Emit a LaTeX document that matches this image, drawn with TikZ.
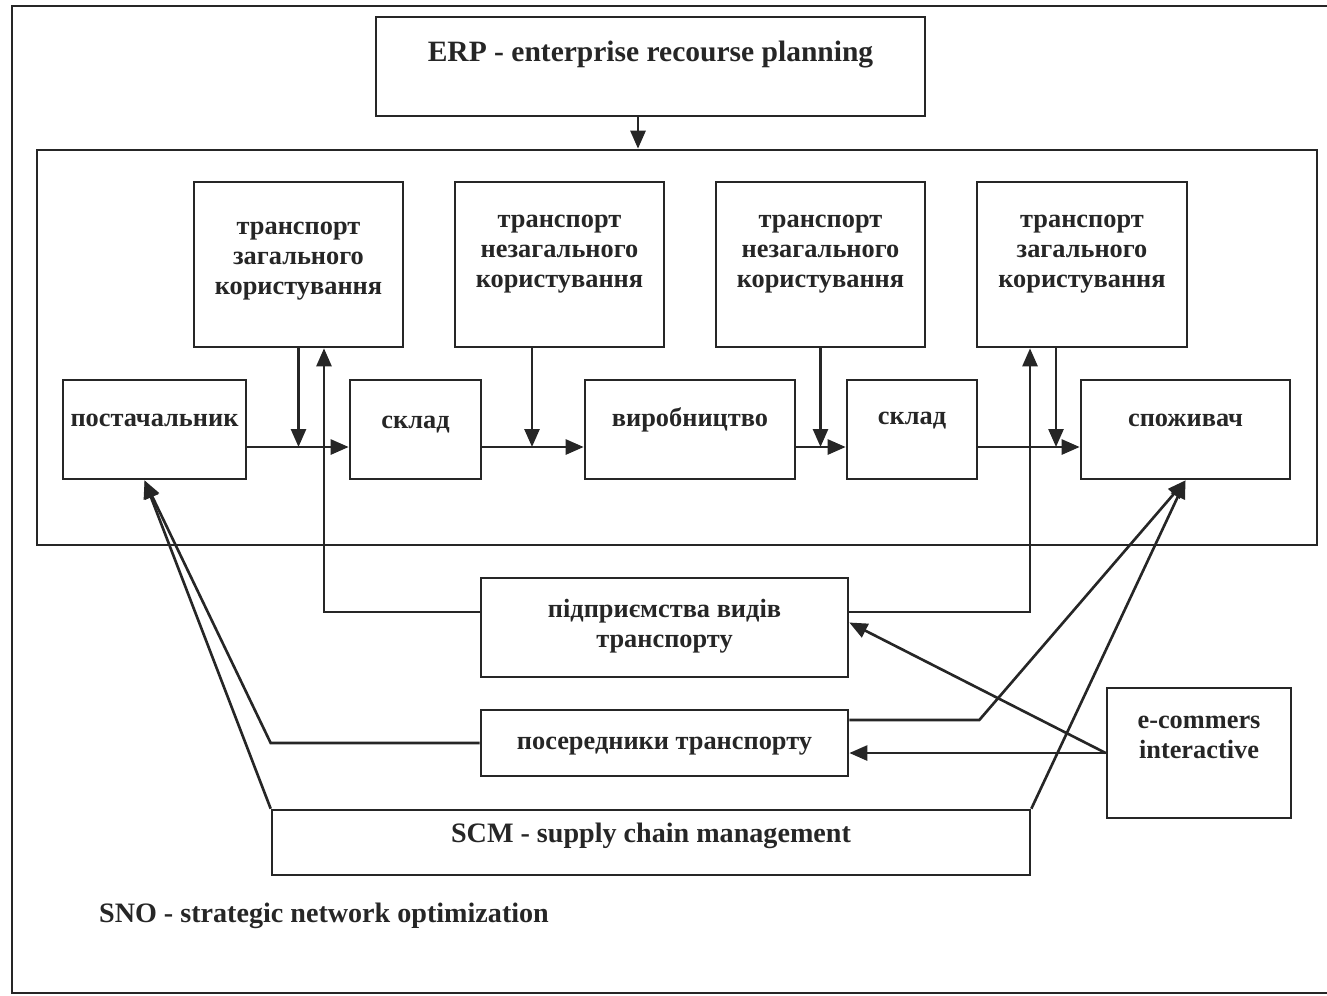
\documentclass[tikz,border=0pt]{standalone}
\usepackage{fontspec}
\setmainfont{Liberation Serif}
\usetikzlibrary{arrows.meta, positioning}

\newcommand{\diagfont}{\fontsize{15}{17}\selectfont\bfseries}
\newcommand{\titlefont}{\fontsize{16}{18}\selectfont\bfseries}

\begin{document}
\begin{tikzpicture}[x=0.02cm, y=-0.02cm, >={Triangle[length=0.36cm, width=0.3cm]},
  color=black!85, line width=1.5pt,
  box/.style 2 args={rectangle, draw, align=center, inner sep=0pt, font=\diagfont,
    minimum width=#1*0.02cm, minimum height=#2*0.02cm},
  lift/.style 2 args={text height=#1, text depth=#2}]
  \useasboundingbox (0,0) rectangle (1327,995);
  \draw (1327,6) -- (12,6) -- (12,993) -- (1327,993);

  \node[box={549}{99}, font=\fontsize{16.8}{19}\selectfont\bfseries, lift={0.4cm}{0.6cm}] (erp) at (650.5,66.5) {ERP - enterprise recourse planning};
  \node[box={1280}{395}] (system) at (677,347.5) {};

  % transport row
  \node[box={209}{165}, lift={1.2cm}{0.02cm}] (tpub1) at (298.5,264.5) {транспорт\\загального\\користування};
  \node[box={209}{165}, lift={1cm}{0.1cm}] (tpriv1) at (559.5,264.5) {транспорт\\незагального\\користування};
  \node[box={209}{165}, lift={1cm}{0.1cm}] (tpriv2) at (820.5,264.5) {транспорт\\незагального\\користування};
  \node[box={210}{165}, lift={1cm}{0.1cm}] (tpub2) at (1082,264.5) {транспорт\\загального\\користування};

  % supply chain row
  \node[box={183}{99}, lift={0.4cm}{0.54cm}] (supplier) at (154.5,429.5) {постачальник};
  \node[box={131}{99}, lift={0.4cm}{0.46cm}] (store1) at (415.5,429.5) {склад};
  \node[box={210}{99}, lift={0.4cm}{0.54cm}] (production) at (690,429.5) {виробництво};
  \node[box={130}{99}, lift={0.4cm}{0.62cm}] (store2) at (912,429.5) {склад};
  \node[box={209}{99}, lift={0.4cm}{0.54cm}] (consumer) at (1185.5,429.5) {споживач};

  \node[box={367}{99}, lift={1cm}{0.22cm}] (carriers) at (664.5,627.5) {підприємства видів\\транспорту};
  \node[box={367}{66}, lift={0.4cm}{0.16cm}] (brokers) at (664.5,743) {посередники транспорту};
  \node[box={184}{130}, lift={1cm}{0.8cm}] (ecom) at (1199,753) {e-commers\\interactive};
  \node[box={758}{65}, font=\titlefont, lift={0.4cm}{0.4cm}] (scm) at (651,842.5) {SCM - supply chain management};
  \node[font=\titlefont, inner sep=0pt] (sno) at (324,916) {SNO - strategic network optimization};

  \coordinate (flow) at ([yshift=-0.35cm]supplier.east);
  \coordinate (erpout) at ([xshift=-0.25cm]erp.south);
  \coordinate (drop1) at (tpub1.south);
  \coordinate (drop2) at ([xshift=-0.55cm]tpriv1.south);
  \coordinate (drop3) at (tpriv2.south);
  \coordinate (drop4) at ([xshift=-0.52cm]tpub2.south);
  \coordinate (rise1) at ([xshift=0.51cm]tpub1.south);
  \coordinate (rise2) at ([xshift=-1.04cm]tpub2.south);
  \coordinate (supin) at ([xshift=-0.2cm]supplier.south);

  \draw[->] (erpout) -- (erpout |- system.north);
  \draw[->] (flow) -- (store1.west |- flow);
  \draw[->] (store1.east |- flow) -- (production.west |- flow);
  \draw[->] (production.east |- flow) -- (store2.west |- flow);
  \draw[->] (store2.east |- flow) -- (consumer.west |- flow);
  \draw[->] (drop1) -- (drop1 |- flow);
  \draw[->] (drop2) -- (drop2 |- flow);
  \draw[->] (drop3) -- (drop3 |- flow);
  \draw[->] (drop4) -- (drop4 |- flow);
  \draw[->] ([yshift=0.31cm]carriers.west) -| (rise1);
  \draw[->] ([yshift=0.31cm]carriers.east) -| (rise2);

  \draw[->] (brokers.west) -- (brokers.west -| scm.west) -- (supin);
  \draw[->] (scm.north west) -- (supin);
  \draw[->] ([yshift=0.46cm]brokers.east) -- ++(2.6cm,0) -- (consumer.south);
  \draw[->] (scm.north east) -- (consumer.south);
  \draw[->] (ecom.west) -- (brokers.east |- ecom.west);
  \draw[->] (ecom.west) -- ([yshift=0.1cm]carriers.east);
\end{tikzpicture}
\end{document}
